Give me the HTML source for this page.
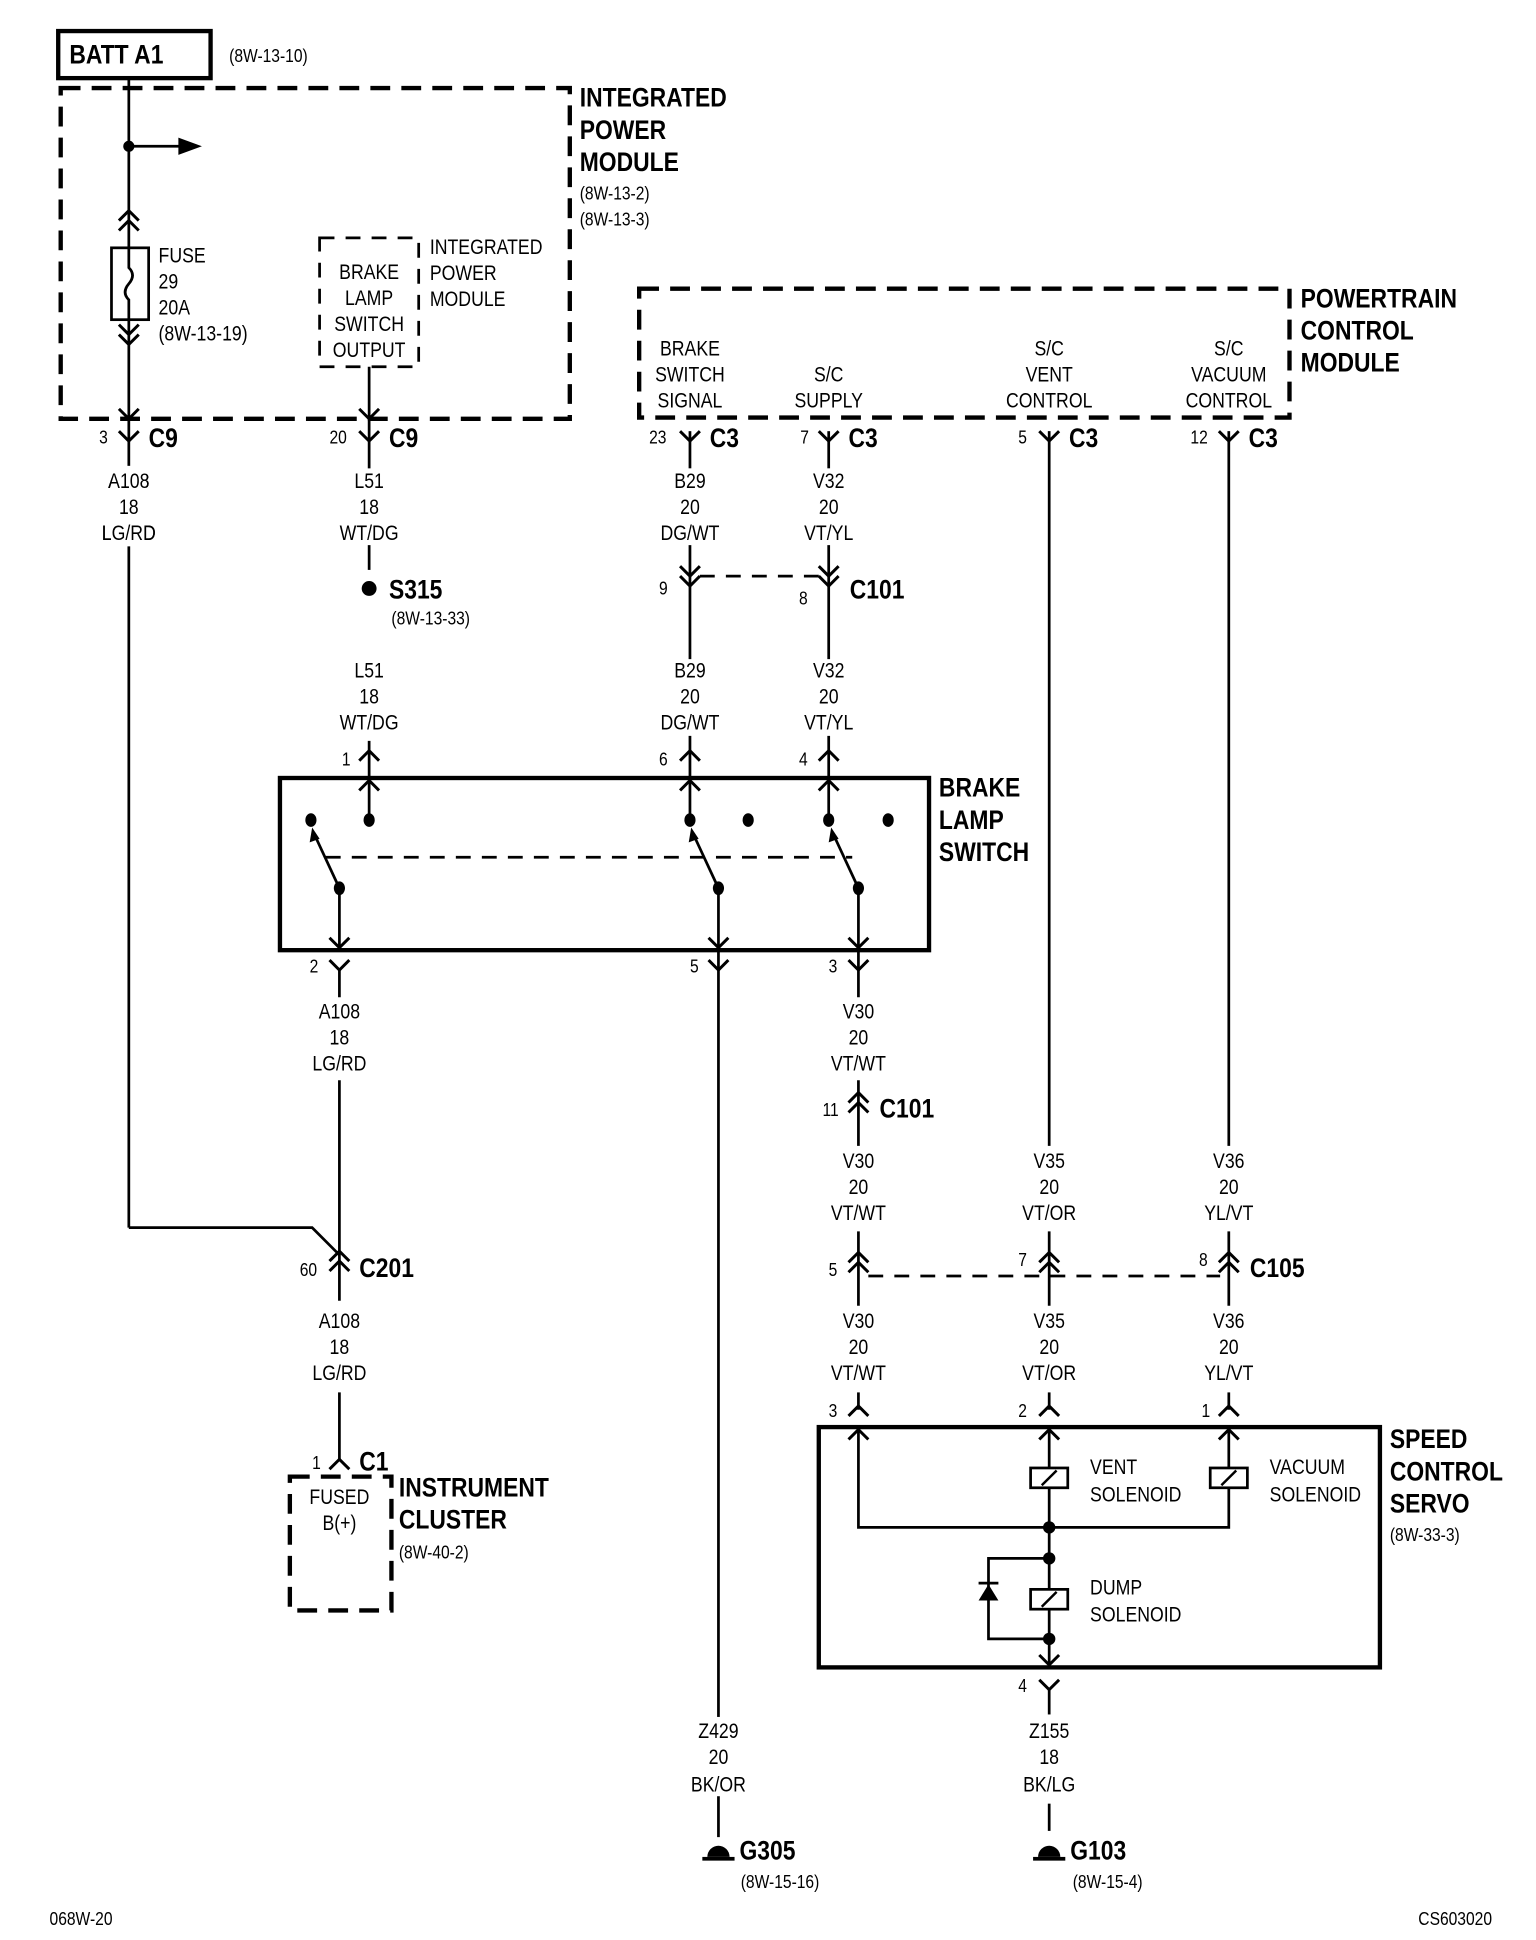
<!DOCTYPE html>
<html><head><meta charset="utf-8"><style>
html,body{margin:0;padding:0;background:#fff;}
svg{display:block;}
text{font-family:"Liberation Sans Narrow","Liberation Sans",sans-serif;fill:#000;transform-box:fill-box;transform-origin:0% 50%;transform:scaleX(.84);}
.n{font-size:17px;}
.c{font-size:17px;text-anchor:middle;transform-origin:50% 50%;}
.b{font-size:22px;font-weight:bold;}
.s{font-size:15px;}
.w{stroke:#000;stroke-width:2.2;fill:none;}
.bx{stroke:#000;stroke-width:3.5;fill:none;}
.d{stroke:#000;stroke-width:3.5;fill:none;stroke-dasharray:16,9;}
.dl{stroke:#000;stroke-width:2.2;fill:none;stroke-dasharray:12,9;}
</style></head><body>
<svg width="1536" height="1940" viewBox="0 0 1240 1566" xmlns="http://www.w3.org/2000/svg">
<defs>
<path id="cd" d="M-8,-8 L0,0 L8,-8" stroke="#000" stroke-width="2.4" fill="none"/>
<path id="cu" d="M-8,8 L0,0 L8,8" stroke="#000" stroke-width="2.4" fill="none"/>
<g id="dd"><use href="#cd"/><use href="#cd" y="8"/></g>
<g id="du"><use href="#cu"/><use href="#cu" y="-8"/></g>
<g id="gnd"><path d="M-9,0 A9,9 0 0 1 9,0 Z" fill="#000"/><rect x="-13" y="0" width="26" height="3" fill="#000"/></g>
<g id="sol"><rect x="-15" y="-8" width="30" height="16" fill="#fff" stroke="#000" stroke-width="2.2"/><line x1="-6" y1="6" x2="6" y2="-6" stroke="#000" stroke-width="2"/></g>
</defs>

<rect x="47" y="25" width="123" height="38" class="bx"/>
<text x="56" y="51" class="b">BATT A1</text>
<text x="185" y="50" class="s">(8W-13-10)</text>

<rect x="49" y="71" width="411" height="267" class="d"/>
<text x="468" y="86" class="b">INTEGRATED</text>
<text x="468" y="112" class="b">POWER</text>
<text x="468" y="138" class="b">MODULE</text>
<text x="468" y="161" class="s">(8W-13-2)</text>
<text x="468" y="182" class="s">(8W-13-3)</text>

<line x1="104" y1="63" x2="104" y2="991" class="w"/>
<circle cx="104" cy="118" r="4.5"/>
<line x1="104" y1="118" x2="148" y2="118" class="w"/>
<path d="M144,111 L163,118 L144,125Z"/>
<use href="#du" x="104" y="178"/>
<rect x="90" y="200" width="30" height="58" fill="#fff" stroke="#000" stroke-width="2.2"/>
<path d="M104,200 V216 Q110,222 104,229 Q98,236 104,242 V258" class="w" stroke-width="2"/>
<use href="#dd" x="104" y="270"/>
<text x="128" y="212" class="n">FUSE</text>
<text x="128" y="233" class="n">29</text>
<text x="128" y="254" class="n">20A</text>
<text x="128" y="275" class="n">(8W-13-19)</text>
<use href="#cd" x="104" y="338"/>
<use href="#cd" x="104" y="356"/>
<text x="80" y="358" class="s">3</text>
<text x="120" y="361" class="b">C9</text>

<rect x="258" y="192" width="80" height="104" class="dl" stroke-width="2.4"/>
<text x="298" y="225" class="c">BRAKE</text>
<text x="298" y="246" class="c">LAMP</text>
<text x="298" y="267" class="c">SWITCH</text>
<text x="298" y="288" class="c">OUTPUT</text>
<text x="347" y="205" class="n">INTEGRATED</text>
<text x="347" y="226" class="n">POWER</text>
<text x="347" y="247" class="n">MODULE</text>
<line x1="298" y1="296" x2="298" y2="378" class="w"/>
<line x1="298" y1="440" x2="298" y2="460" class="w"/>
<use href="#cd" x="298" y="338"/>
<use href="#cd" x="298" y="356"/>
<text x="266" y="358" class="s">20</text>
<text x="314" y="361" class="b">C9</text>

<text x="104" y="394" class="c">A108</text>
<text x="104" y="415" class="c">18</text>
<text x="104" y="436" class="c">LG/RD</text>
<rect x="90" y="376" width="28" height="65" fill="#fff"/>
<text x="104" y="394" class="c">A108</text>
<text x="104" y="415" class="c">18</text>
<text x="104" y="436" class="c">LG/RD</text>

<text x="298" y="394" class="c">L51</text>
<text x="298" y="415" class="c">18</text>
<text x="298" y="436" class="c">WT/DG</text>
<circle cx="298" cy="475" r="6"/>
<text x="314" y="483" class="b">S315</text>
<text x="316" y="504" class="s">(8W-13-33)</text>
<text x="298" y="547" class="c">L51</text>
<text x="298" y="568" class="c">18</text>
<text x="298" y="589" class="c">WT/DG</text>
<line x1="298" y1="598" x2="298" y2="662" class="w"/>
<use href="#cu" x="298" y="606"/>
<text x="276" y="618" class="s">1</text>

<rect x="516" y="233" width="525" height="104" class="d"/>
<text x="1050" y="248" class="b">POWERTRAIN</text>
<text x="1050" y="274" class="b">CONTROL</text>
<text x="1050" y="300" class="b">MODULE</text>
<text x="557" y="287" class="c">BRAKE</text>
<text x="557" y="308" class="c">SWITCH</text>
<text x="557" y="329" class="c">SIGNAL</text>
<text x="669" y="308" class="c">S/C</text>
<text x="669" y="329" class="c">SUPPLY</text>
<text x="847" y="287" class="c">S/C</text>
<text x="847" y="308" class="c">VENT</text>
<text x="847" y="329" class="c">CONTROL</text>
<text x="992" y="287" class="c">S/C</text>
<text x="992" y="308" class="c">VACUUM</text>
<text x="992" y="329" class="c">CONTROL</text>

<line x1="557" y1="348" x2="557" y2="378" class="w"/>
<line x1="557" y1="440" x2="557" y2="532" class="w"/>
<line x1="557" y1="594" x2="557" y2="662" class="w"/>
<line x1="669" y1="348" x2="669" y2="378" class="w"/>
<line x1="669" y1="440" x2="669" y2="532" class="w"/>
<line x1="669" y1="594" x2="669" y2="662" class="w"/>
<line x1="847" y1="348" x2="847" y2="925" class="w"/>
<line x1="992" y1="348" x2="992" y2="925" class="w"/>
<use href="#cd" x="557" y="356"/><use href="#cd" x="669" y="356"/><use href="#cd" x="847" y="356"/><use href="#cd" x="992" y="356"/>
<text x="524" y="358" class="s">23</text><text x="573" y="361" class="b">C3</text>
<text x="646" y="358" class="s">7</text><text x="685" y="361" class="b">C3</text>
<text x="822" y="358" class="s">5</text><text x="863" y="361" class="b">C3</text>
<text x="961" y="358" class="s">12</text><text x="1008" y="361" class="b">C3</text>

<text x="557" y="394" class="c">B29</text><text x="557" y="415" class="c">20</text><text x="557" y="436" class="c">DG/WT</text>
<text x="669" y="394" class="c">V32</text><text x="669" y="415" class="c">20</text><text x="669" y="436" class="c">VT/YL</text>
<use href="#dd" x="557" y="465"/><use href="#dd" x="669" y="465"/>
<line x1="565" y1="465" x2="663" y2="465" class="dl"/>
<text x="532" y="480" class="s">9</text>
<text x="645" y="488" class="s">8</text>
<text x="686" y="483" class="b">C101</text>
<text x="557" y="547" class="c">B29</text><text x="557" y="568" class="c">20</text><text x="557" y="589" class="c">DG/WT</text>
<text x="669" y="547" class="c">V32</text><text x="669" y="568" class="c">20</text><text x="669" y="589" class="c">VT/YL</text>
<use href="#cu" x="557" y="606"/><use href="#cu" x="669" y="606"/>
<text x="532" y="618" class="s">6</text><text x="645" y="618" class="s">4</text>

<rect x="226" y="628" width="524" height="139" class="bx"/>
<text x="758" y="643" class="b">BRAKE</text>
<text x="758" y="669" class="b">LAMP</text>
<text x="758" y="695" class="b">SWITCH</text>
<use href="#cu" x="298" y="630"/><use href="#cu" x="557" y="630"/><use href="#cu" x="669" y="630"/>
<g fill="#000">
<ellipse cx="251" cy="662" rx="4.5" ry="5.5"/><ellipse cx="298" cy="662" rx="4.5" ry="5.5"/>
<ellipse cx="557" cy="662" rx="4.5" ry="5.5"/><ellipse cx="604" cy="662" rx="4.5" ry="5.5"/>
<ellipse cx="669" cy="662" rx="4.5" ry="5.5"/><ellipse cx="717" cy="662" rx="4.5" ry="5.5"/>
<ellipse cx="274" cy="717" rx="4.5" ry="5.5"/><ellipse cx="580" cy="717" rx="4.5" ry="5.5"/><ellipse cx="693" cy="717" rx="4.5" ry="5.5"/>
</g>
<g class="w">
<line x1="274" y1="717" x2="254" y2="674"/><line x1="580" y1="717" x2="560" y2="674"/><line x1="693" y1="717" x2="673" y2="674"/>
</g>
<path d="M252,668 L250,680 L258,677Z"/><path d="M558,668 L556,680 L564,677Z"/><path d="M671,668 L669,680 L677,677Z"/>
<line x1="263" y1="692" x2="688" y2="692" class="dl"/>
<line x1="274" y1="717" x2="274" y2="767" class="w"/>
<line x1="580" y1="717" x2="580" y2="1483" class="w"/>
<line x1="693" y1="717" x2="693" y2="805" class="w"/>
<use href="#cd" x="274" y="765"/><use href="#cd" x="580" y="765"/><use href="#cd" x="693" y="765"/>
<use href="#cd" x="274" y="783"/><use href="#cd" x="580" y="783"/><use href="#cd" x="693" y="783"/>
<text x="250" y="785" class="s">2</text><text x="557" y="785" class="s">5</text><text x="669" y="785" class="s">3</text>

<line x1="274" y1="783" x2="274" y2="805" class="w"/>
<text x="274" y="822" class="c">A108</text><text x="274" y="843" class="c">18</text><text x="274" y="864" class="c">LG/RD</text>
<line x1="274" y1="872" x2="274" y2="1050" class="w"/>
<polyline points="104,991 252,991 274,1013" class="w"/>
<use href="#du" x="274" y="1018"/>
<text x="242" y="1030" class="s">60</text>
<text x="290" y="1031" class="b">C201</text>
<text x="274" y="1072" class="c">A108</text><text x="274" y="1093" class="c">18</text><text x="274" y="1114" class="c">LG/RD</text>
<line x1="274" y1="1124" x2="274" y2="1178" class="w"/>
<use href="#cu" x="274" y="1178"/>
<text x="252" y="1186" class="s">1</text>
<text x="290" y="1187" class="b">C1</text>
<rect x="234" y="1192" width="82" height="108" class="d" stroke-width="3" stroke-dasharray="14,10"/>
<text x="274" y="1214" class="c">FUSED</text>
<text x="274" y="1235" class="c">B(+)</text>
<text x="322" y="1208" class="b">INSTRUMENT</text>
<text x="322" y="1234" class="b">CLUSTER</text>
<text x="322" y="1258" class="s">(8W-40-2)</text>

<text x="693" y="822" class="c">V30</text><text x="693" y="843" class="c">20</text><text x="693" y="864" class="c">VT/WT</text>
<line x1="693" y1="872" x2="693" y2="925" class="w"/>
<use href="#du" x="693" y="890"/>
<text x="664" y="901" class="s">11</text>
<text x="710" y="902" class="b">C101</text>
<text x="693" y="943" class="c">V30</text><text x="693" y="964" class="c">20</text><text x="693" y="985" class="c">VT/WT</text>
<text x="847" y="943" class="c">V35</text><text x="847" y="964" class="c">20</text><text x="847" y="985" class="c">VT/OR</text>
<text x="992" y="943" class="c">V36</text><text x="992" y="964" class="c">20</text><text x="992" y="985" class="c">YL/VT</text>
<line x1="693" y1="994" x2="693" y2="1054" class="w"/>
<line x1="847" y1="994" x2="847" y2="1054" class="w"/>
<line x1="992" y1="994" x2="992" y2="1054" class="w"/>
<use href="#du" x="693" y="1019"/><use href="#du" x="847" y="1019"/><use href="#du" x="992" y="1019"/>
<line x1="701" y1="1030" x2="985" y2="1030" class="dl"/>
<text x="669" y="1030" class="s">5</text><text x="822" y="1022" class="s">7</text><text x="968" y="1022" class="s">8</text>
<text x="1009" y="1031" class="b">C105</text>
<text x="693" y="1072" class="c">V30</text><text x="693" y="1093" class="c">20</text><text x="693" y="1114" class="c">VT/WT</text>
<text x="847" y="1072" class="c">V35</text><text x="847" y="1093" class="c">20</text><text x="847" y="1114" class="c">VT/OR</text>
<text x="992" y="1072" class="c">V36</text><text x="992" y="1093" class="c">20</text><text x="992" y="1114" class="c">YL/VT</text>
<line x1="693" y1="1124" x2="693" y2="1138" class="w"/>
<line x1="847" y1="1124" x2="847" y2="1138" class="w"/>
<line x1="992" y1="1124" x2="992" y2="1138" class="w"/>
<use href="#cu" x="693" y="1135"/><use href="#cu" x="847" y="1135"/><use href="#cu" x="992" y="1135"/>
<text x="669" y="1144" class="s">3</text><text x="822" y="1144" class="s">2</text><text x="970" y="1144" class="s">1</text>

<rect x="661" y="1152" width="453" height="194" class="bx"/>
<text x="1122" y="1169" class="b">SPEED</text>
<text x="1122" y="1195" class="b">CONTROL</text>
<text x="1122" y="1221" class="b">SERVO</text>
<text x="1122" y="1244" class="s">(8W-33-3)</text>
<use href="#cu" x="693" y="1154"/><use href="#cu" x="847" y="1154"/><use href="#cu" x="992" y="1154"/>
<polyline points="693,1154 693,1233 992,1233 992,1154" class="w"/>
<line x1="847" y1="1154" x2="847" y2="1346" class="w"/>
<use href="#sol" x="847" y="1193"/>
<use href="#sol" x="992" y="1193"/>
<text x="880" y="1190" class="n">VENT</text><text x="880" y="1212" class="n">SOLENOID</text>
<text x="1025" y="1190" class="n">VACUUM</text><text x="1025" y="1212" class="n">SOLENOID</text>
<circle cx="847" cy="1233" r="5"/>
<circle cx="847" cy="1258" r="5"/>
<circle cx="847" cy="1323" r="5"/>
<polyline points="847,1258 798,1258 798,1323 847,1323" class="w"/>
<path d="M790,1292 L806,1292 L798,1279Z"/>
<line x1="790" y1="1278" x2="806" y2="1278" class="w"/>
<use href="#sol" x="847" y="1291"/>
<text x="880" y="1287" class="n">DUMP</text><text x="880" y="1309" class="n">SOLENOID</text>
<use href="#cd" x="847" y="1344"/>
<use href="#cd" x="847" y="1364"/>
<line x1="847" y1="1364" x2="847" y2="1384" class="w"/>
<text x="822" y="1366" class="s">4</text>

<rect x="566" y="1386" width="28" height="64" fill="#fff"/>
<text x="580" y="1403" class="c">Z429</text><text x="580" y="1424" class="c">20</text><text x="580" y="1446" class="c">BK/OR</text>
<text x="847" y="1403" class="c">Z155</text><text x="847" y="1424" class="c">18</text><text x="847" y="1446" class="c">BK/LG</text>
<line x1="847" y1="1456" x2="847" y2="1478" class="w"/>
<use href="#gnd" x="580" y="1499"/>
<use href="#gnd" x="847" y="1499"/>
<text x="597" y="1501" class="b">G305</text>
<text x="598" y="1524" class="s">(8W-15-16)</text>
<text x="864" y="1501" class="b">G103</text>
<text x="866" y="1524" class="s">(8W-15-4)</text>

<text x="40" y="1554" class="s">068W-20</text>
<text x="1145" y="1554" class="s">CS603020</text>
</svg>
</body></html>
